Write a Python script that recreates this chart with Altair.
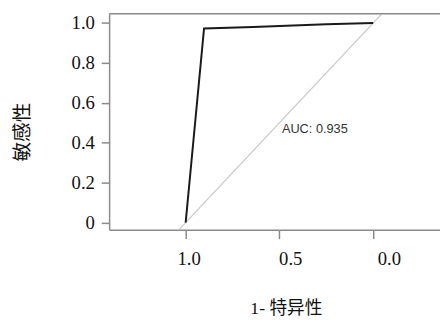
import altair as alt
import pandas as pd

# ROC curve points (specificity, sensitivity)
roc_spec = [1.0, 0.902, 0.64, 0.25, 0.0]
roc_sens = [0.0, 0.972, 0.980, 0.993, 1.0]
# reference diagonal (chance line)
diag_spec = [1.06, -0.06]
diag_sens = [-0.06, 1.06]
auc_label = "AUC: 0.935"
auc_pos = [0.487, 0.469]
x_ticks = [1.0, 0.5, 0.0]
y_ticks = [0.0, 0.2, 0.4, 0.6, 0.8, 1.0]

W, H = 337, 220
xscale = alt.Scale(domain=[-0.356, 1.408], reverse=True, nice=False, zero=False)
yscale = alt.Scale(domain=[-0.036, 1.046], nice=False, zero=False)

AX = "#8a8a8a"
SERIF = "Liberation Serif, Noto Sans CJK SC"

roc = pd.DataFrame({"spec": roc_spec, "sens": roc_sens, "i": range(len(roc_spec))})
diag = pd.DataFrame({"spec": diag_spec, "sens": diag_sens, "i": range(len(diag_spec))})
txt = pd.DataFrame({"spec": [auc_pos[0]], "sens": [auc_pos[1]], "t": [auc_label]})

xax = alt.Axis(values=x_ticks, format=".1f", title="1- 特异性", grid=False,
               tickSize=9, labelPadding=11, labelFont=SERIF, labelFontSize=19,
               labelOffset={"condition": [{"test": "datum.value == 0", "value": 16},
                                          {"test": "datum.value == 0.5", "value": 11}],
                            "value": 3},
               labelColor="#111", titleFont=SERIF, titleFontSize=18,
               titleFontWeight="normal", titleColor="#111",
               titleX=180, titleY=80, titleBaseline="middle", titleAlign="center",
               domainColor=AX, tickColor=AX, domainWidth=1.5, tickWidth=1.5)
yax = alt.Axis(values=y_ticks, title="敏感性", grid=False,
               labelExpr="datum.value == 0 ? '0' : format(datum.value, '.1f')",
               tickSize=8, labelPadding=7, labelFont=SERIF, labelFontSize=19,
               labelColor="#111", titleFont=SERIF, titleFontSize=20,
               titleFontWeight="normal", titleColor="#111",
               titleX=-88, titleY=120, titleBaseline="middle", titleAlign="center",
               titleAngle=270,
               domainColor=AX, tickColor=AX, domainWidth=1.5, tickWidth=1.5)

diag_line = alt.Chart(diag).mark_line(color="#c8c8c8", strokeWidth=1.2, clip=True).encode(
    x=alt.X("spec:Q", scale=xscale, axis=xax),
    y=alt.Y("sens:Q", scale=yscale, axis=yax),
    order="i:Q",
)
roc_line = alt.Chart(roc).mark_line(color="#1a1a1a", strokeWidth=2).encode(
    x=alt.X("spec:Q", scale=xscale),
    y=alt.Y("sens:Q", scale=yscale),
    order="i:Q",
)
label = alt.Chart(txt).mark_text(align="left", baseline="middle", font="Liberation Sans",
                                 fontSize=13, color="#333").encode(
    x=alt.X("spec:Q", scale=xscale),
    y=alt.Y("sens:Q", scale=yscale),
    text="t:N",
)
top_border = alt.Chart(txt).mark_rule(color=AX, strokeWidth=1.5).encode(
    x=alt.value(0), x2=alt.value(W), y=alt.value(0)
)

chart = alt.layer(diag_line, roc_line, label, top_border).properties(
    width=W, height=H,
    autosize=alt.AutoSizeParams(type="none"),
    padding={"left": 103, "top": 3, "right": 0, "bottom": 88},
).configure_view(strokeWidth=0)

chart.save("out.html", embed_options={"renderer": "svg", "actions": False})
